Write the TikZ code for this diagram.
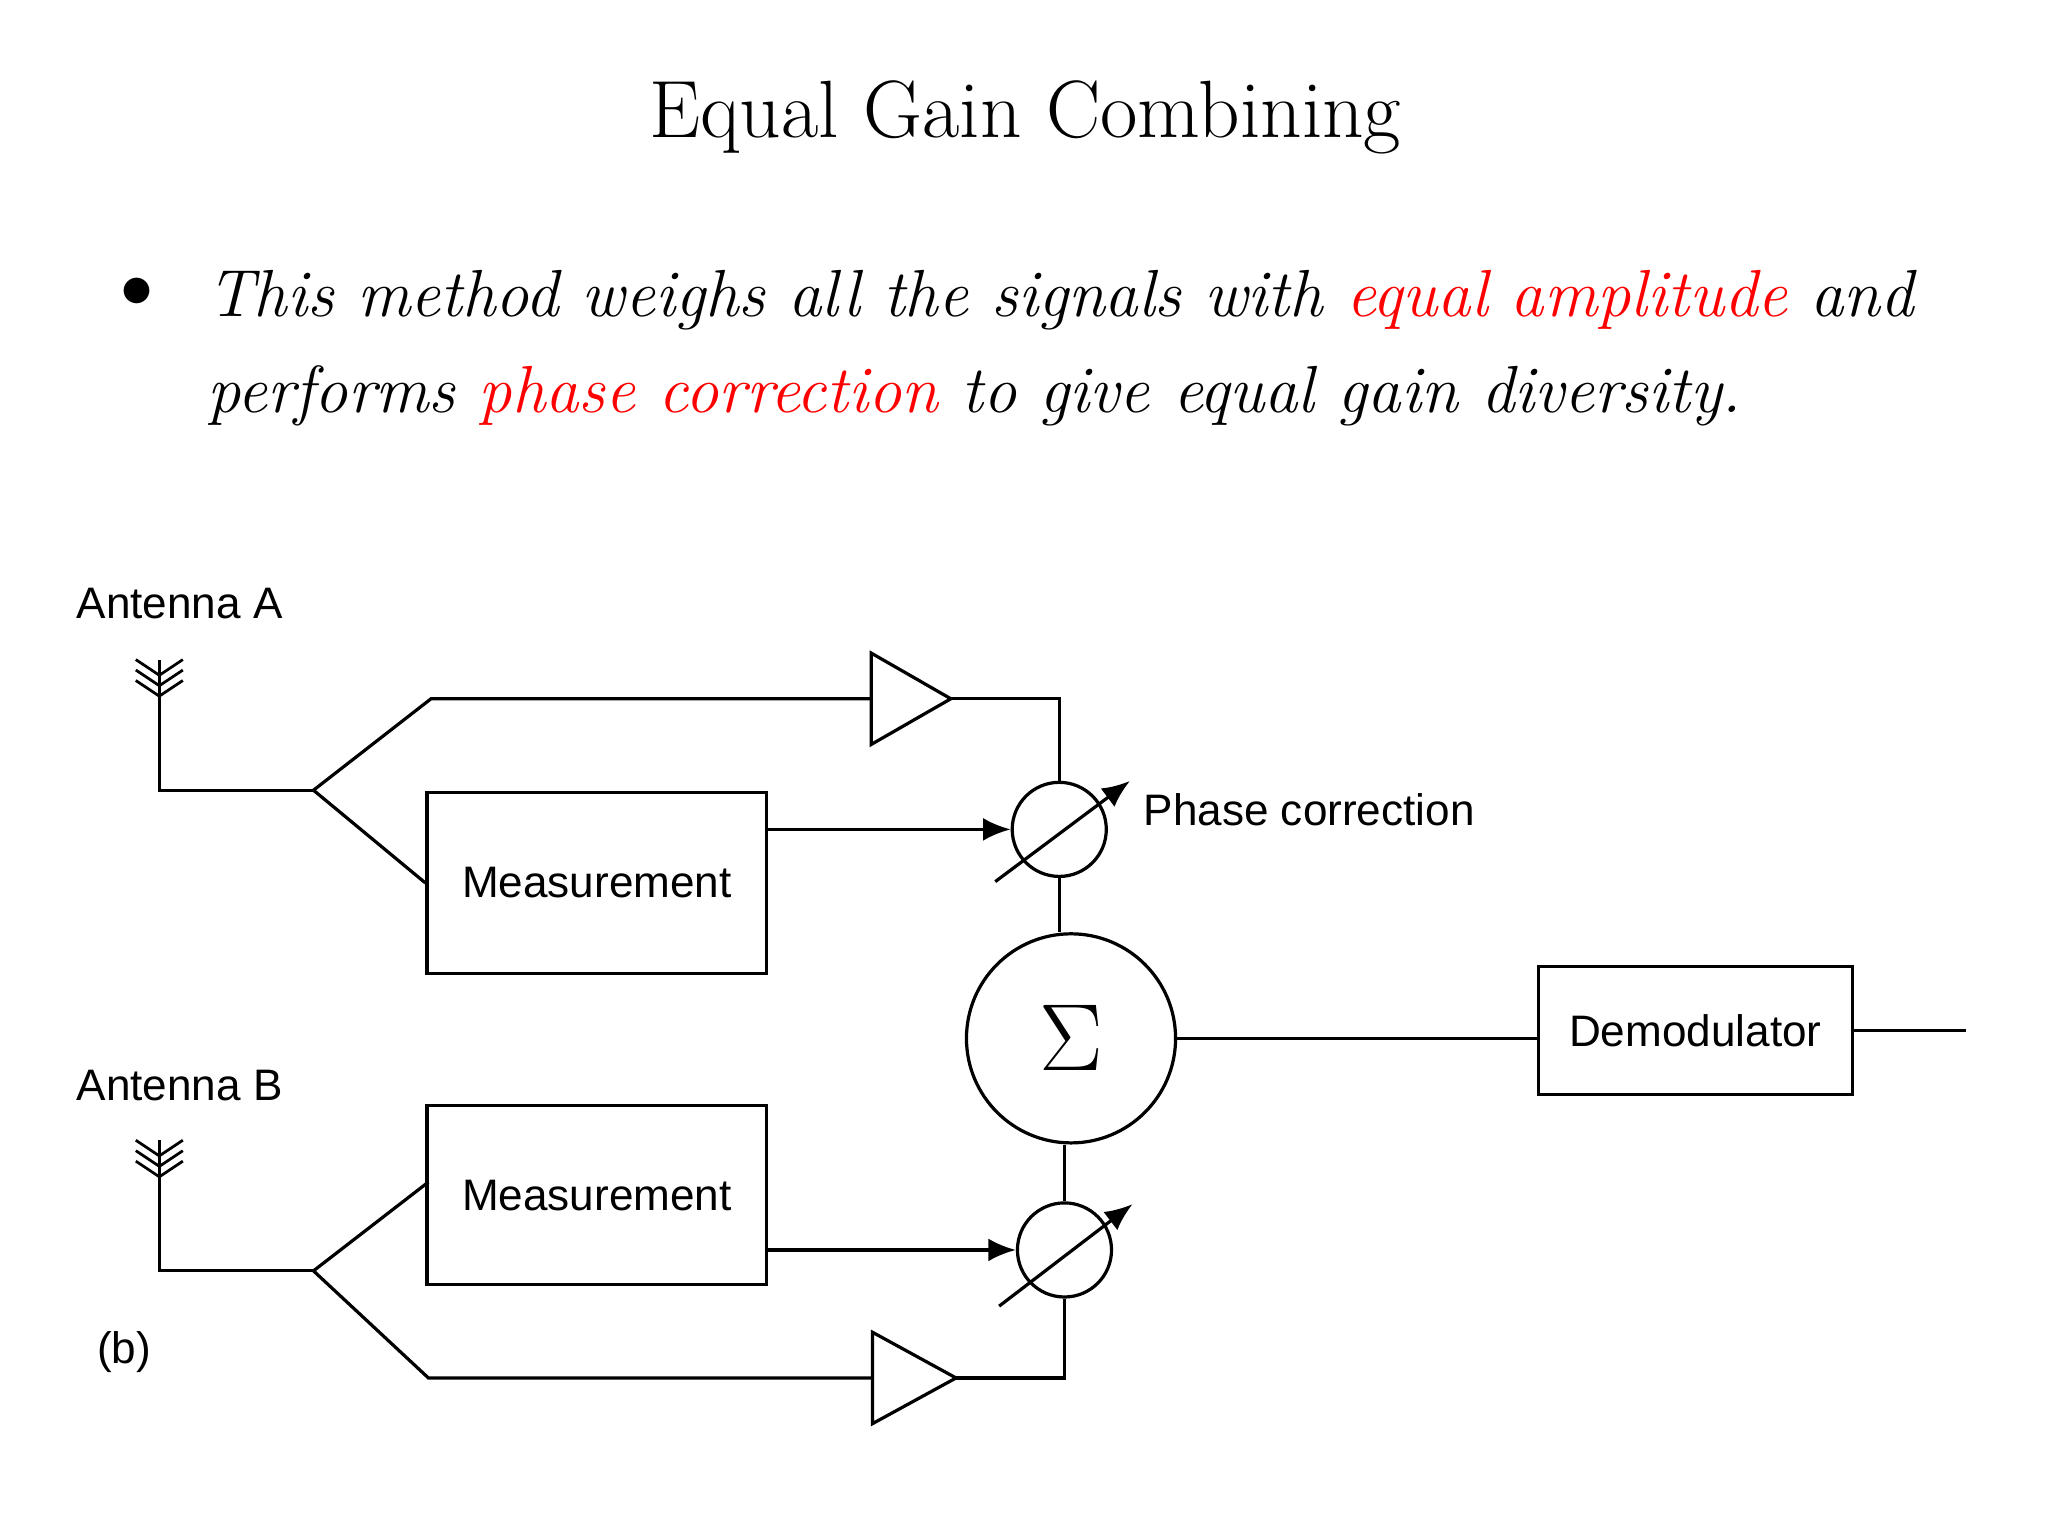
\documentclass[tikz,border=0pt]{standalone}
\usepackage{fontspec}
\newfontfamily\diag{Liberation Sans}
\usetikzlibrary{arrows.meta}
\begin{document}
\begin{tikzpicture}[x=0.01cm,y=-0.01cm,
 ln/.style={line width=0.7pt},
 lab/.style={font=\diag\fontsize{9.6}{11}\selectfont,inner sep=0},
 ar/.style={ln,-{Latex[length=6pt,width=5pt]}}]
\useasboundingbox (0,0) rectangle (1568,1176);
\fill[white] (0,0) rectangle (1568,1176);
\node[font=\fontsize{17.7}{21}\selectfont] (title) at (785,90) {Equal Gain Combining};
\node[font=\fontsize{14.5}{18}\selectfont] (bul) at (105,224) {$\bullet$};
\node[anchor=base west,inner sep=0,font=\itshape\fontsize{14.5}{18}\selectfont] (l1) at (158,242) {This method weighs all the signals with \textcolor{red}{equal amplitude} and};
\node[anchor=base west,inner sep=0,font=\itshape\fontsize{14.5}{18}\selectfont] (l2) at (158,316) {performs \textcolor{red}{phase correction} to give equal gain diversity.};
% labels
\node[lab,anchor=west] (antA) at (58,462) {Antenna A};
\node[lab,anchor=west] (antB) at (58,831) {Antenna B};
\node[lab] (b) at (95,1035) {(b)};
\node[lab,anchor=west] (pc) at (875,620) {Phase correction};
% boxes
\node[draw,ln,minimum width=2.6cm,minimum height=1.38cm,lab] (m1) at (457,676) {Measurement};
\node[draw,ln,minimum width=2.6cm,minimum height=1.37cm,lab] (m2) at (457,915) {Measurement};
\node[draw,ln,minimum width=2.4cm,minimum height=0.98cm,lab] (dem) at (1298,789) {Demodulator};
\node[draw,circle,ln,minimum size=1.6cm,inner sep=0,font=\fontsize{22}{24}\selectfont] (sig) at (820,795) {$\Sigma$};
\node[draw,circle,ln,minimum size=0.72cm,inner sep=0] (p1) at (811,635) {};
\node[draw,circle,ln,minimum size=0.72cm,inner sep=0] (p2) at (815,957) {};
% antennas
\foreach \yy/\nm in {505/A,873/B}{
 \coordinate (t\nm) at (122,\yy+35);
 \draw[ln] (t\nm) -- (122,\yy);
 \foreach \k in {0,8,16}{\draw[line width=0.6pt] (122,\yy+\k+12) -- (104,\yy+\k) (122,\yy+\k+12) -- (140,\yy+\k);}
}
% branch A
\coordinate (jA) at (240,605);
\draw[ln] (tA) -- (122,605) -- (jA);
\draw[ln] (jA) -- (330,535) -- (667,535);
\draw[ln] (jA) -- (m1.west);
\draw[ln] (667,500) -- (728,535) -- (667,570) -- cycle;
\draw[ln] (728,535) -| (p1.north);
\draw[ar] (m1.east |- p1.west) -- (p1.west);
\draw[ar] (762,675) -- (865,598);
\draw[ln] (p1.south) -- (p1.south |- sig.north);
% branch B
\coordinate (jB) at (240,973);
\draw[ln] (tB) -- (122,973) -- (jB);
\draw[ln] (jB) -- (328,905);
\draw[ln] (jB) -- (328,1055) -- (668,1055);
\draw[ln] (668,1020) -- (732,1055) -- (668,1090) -- cycle;
\draw[ln] (732,1055) -| (p2.south);
\draw[ar] (m2.east |- p2.west) -- (p2.west);
\draw[ar] (765,1000) -- (867,922);
\draw[ln] (p2.north) -- (p2.north |- sig.south);
% output
\draw[ln] (sig.east) -- (sig.east -| dem.west);
\coordinate (out) at (1505,789);
\draw[ln] (dem.east) -- (out);
\end{tikzpicture}
\end{document}
